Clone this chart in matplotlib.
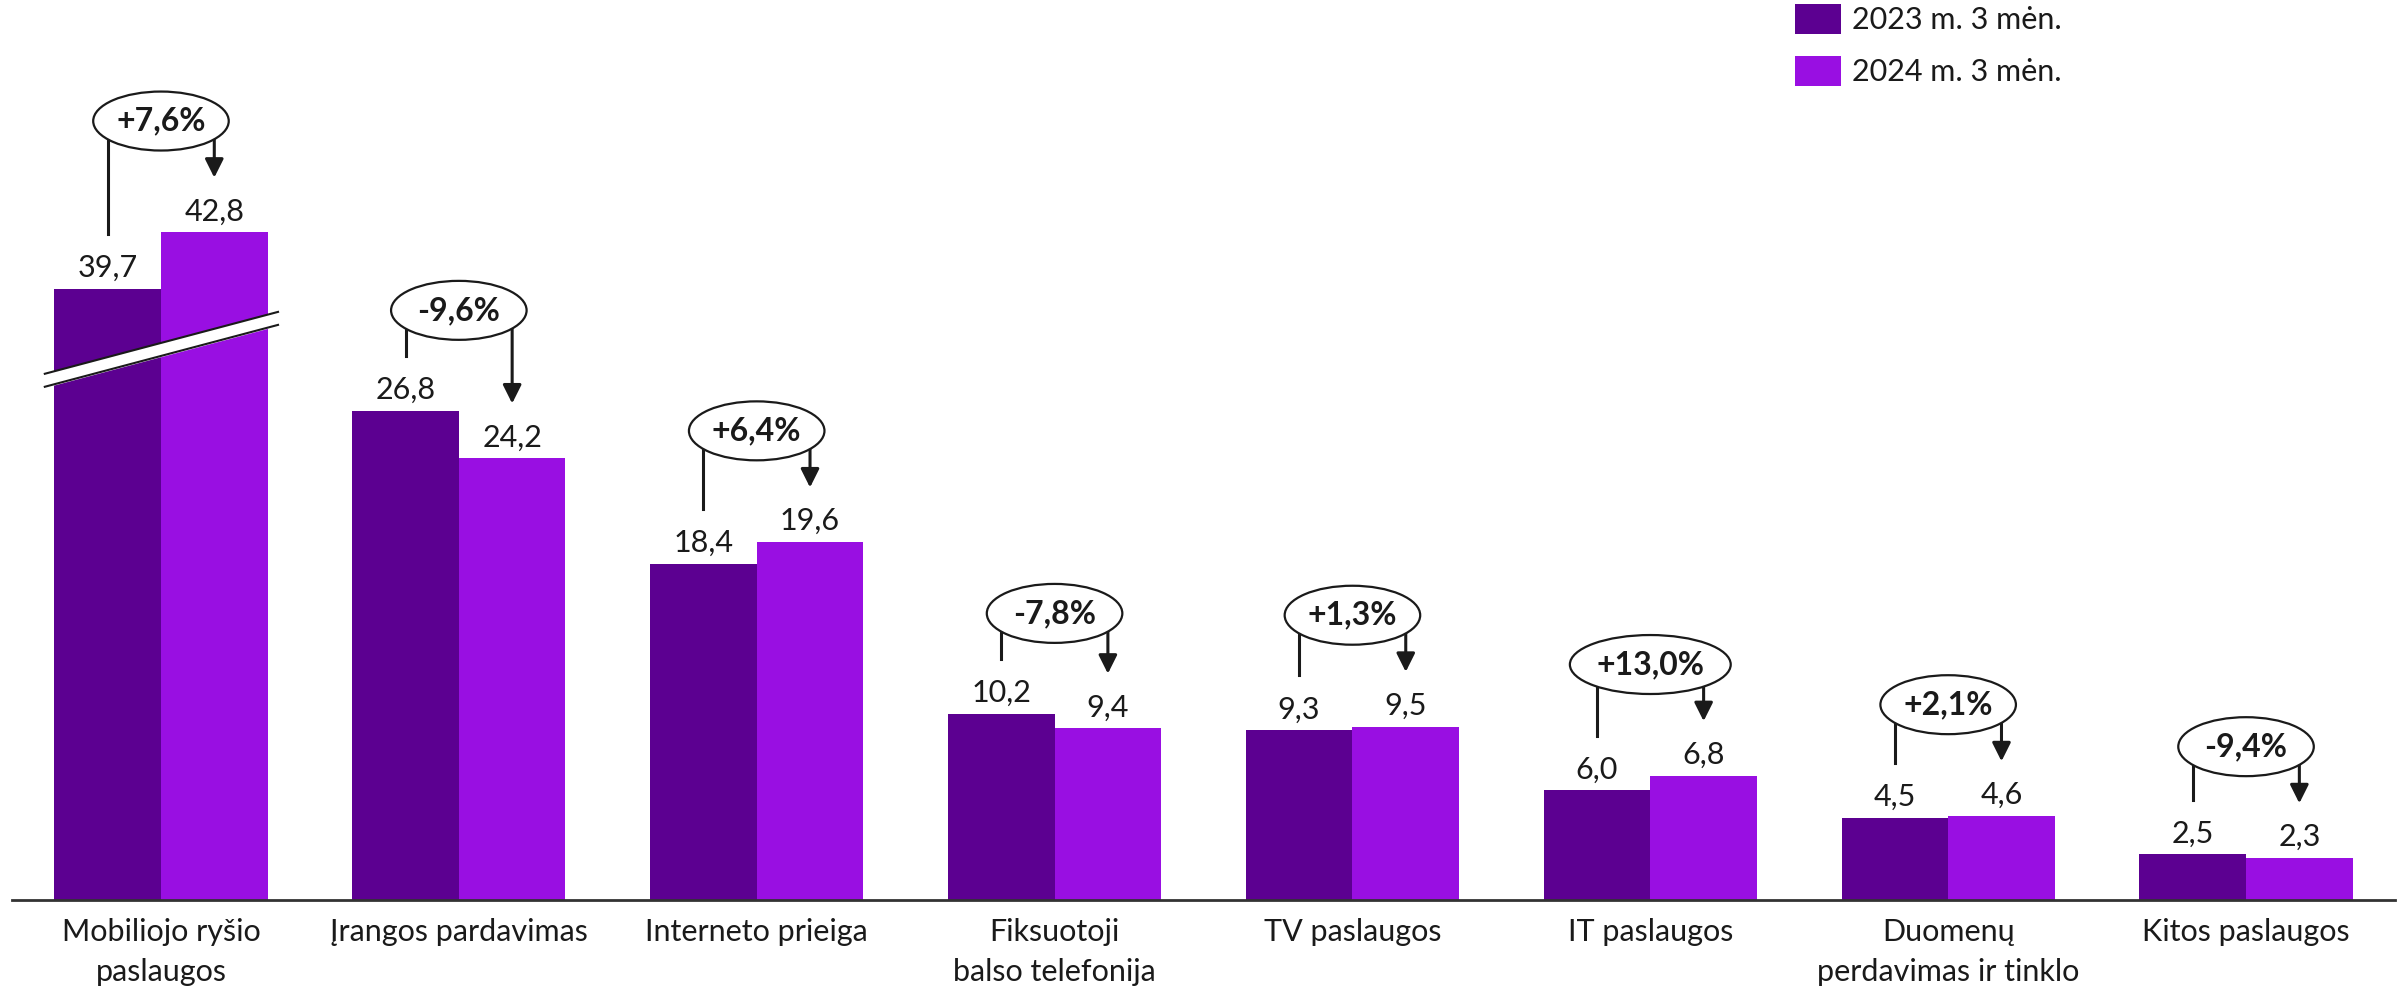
import numpy as np
import matplotlib.pyplot as plt
from matplotlib.patches import Ellipse

plt.rcParams['font.family'] = ['Lato', 'DejaVu Sans']

# duomenys
categories = ['Mobiliojo ryšio\npaslaugos', 'Įrangos pardavimas', 'Interneto prieiga',
              'Fiksuotoji\nbalso telefonija', 'TV paslaugos', 'IT paslaugos',
              'Duomenų\nperdavimas ir tinklo', 'Kitos paslaugos']
v2023 = [39.7, 26.8, 18.4, 10.2, 9.3, 6.0, 4.5, 2.5]
v2024 = [42.8, 24.2, 19.6, 9.4, 9.5, 6.8, 4.6, 2.3]
changes = ['+7,6%', '-9,6%', '+6,4%', '-7,8%', '+1,3%', '+13,0%', '+2,1%', '-9,4%']
labels = ['2023 m. 3 mėn.', '2024 m. 3 mėn.']

# pirmoji grupė nupiešta su pertrūkiu
broken = [True, False, False, False, False, False, False, False]
cut = 6.23

c_dark = '#5C0091'
c_light = '#990FE2'
txt = '#1a1a1a'

fig = plt.figure(figsize=(24.07, 9.91), dpi=100)
ax = fig.add_axes([0.005, 0.0918, 0.99, 0.9082])

x = np.arange(len(categories))
w = 0.358
h23 = np.array([v - cut if b else v for v, b in zip(v2023, broken)])
h24 = np.array([v - cut if b else v for v, b in zip(v2024, broken)])

ax.bar(x - w / 2, h23, w, color=c_dark, label=labels[0], zorder=2)
ax.bar(x + w / 2, h24, w, color=c_light, label=labels[1], zorder=2)

def fmt(v):
    return f'{v:.1f}'.replace('.', ',')

for i in range(len(x)):
    ax.annotate(fmt(v2023[i]), (x[i] - w / 2, h23[i]), xytext=(0, 8.6),
                textcoords='offset points', ha='center', va='baseline',
                fontsize=22, color=txt)
    ax.annotate(fmt(v2024[i]), (x[i] + w / 2, h24[i]), xytext=(0, 8.6),
                textcoords='offset points', ha='center', va='baseline',
                fontsize=22, color=txt)

    # skliaustas su pokyčiu
    yc = max(h23[i] + 5.5, h24[i] + 6.1)
    ax.plot([x[i] - w / 2, x[i] - w / 2], [yc, h23[i] + 3.0], color=txt, lw=2.2, zorder=3)
    ax.annotate('', xy=(x[i] + w / 2, h24[i] + 3.0), xytext=(x[i] + w / 2, yc),
                arrowprops=dict(arrowstyle='-|>', color=txt, lw=2.2,
                                mutation_scale=28, shrinkA=0, shrinkB=0), zorder=3)
    ew = 0.03 + 0.085 * len(changes[i])
    ax.add_patch(Ellipse((x[i], yc), ew, 3.23, facecolor='white', edgecolor=txt,
                         lw=1.6, zorder=4))
    ax.text(x[i], yc, changes[i], ha='center', va='center', fontsize=23,
            fontweight='bold', color=txt, zorder=5)

# pertrūkio žymė
for i in range(len(x)):
    if broken[i]:
        bx = np.array([x[i] - 0.39, x[i] + 0.393])
        by = np.array([28.47, 31.86])
        g = 0.356
        ax.fill_between(bx, by - g, by + g, color='white', zorder=3)
        ax.plot(bx, by - g, color=txt, lw=1.5, zorder=3)
        ax.plot(bx, by + g, color=txt, lw=1.5, zorder=3)

ax.set_xlim(-0.5, 7.5)
ax.set_ylim(0, 49.3)
ax.set_xticks(x)
ax.set_xticklabels(categories, fontsize=22, color=txt, linespacing=1.5)
ax.tick_params(axis='x', length=0, pad=13)
ax.set_yticks([])
for s in ['top', 'right', 'left']:
    ax.spines[s].set_visible(False)
ax.spines['bottom'].set_color('#333333')
ax.spines['bottom'].set_linewidth(2)

fig.legend(loc='upper left', bbox_to_anchor=(1795 / 2407, 1 - 4 / 991), frameon=False,
           fontsize=22, handlelength=1.5, handleheight=1.11, handletextpad=0.36,
           labelspacing=0.72, borderpad=0, borderaxespad=0, labelcolor=txt)

fig.savefig('out.png', dpi=100)
